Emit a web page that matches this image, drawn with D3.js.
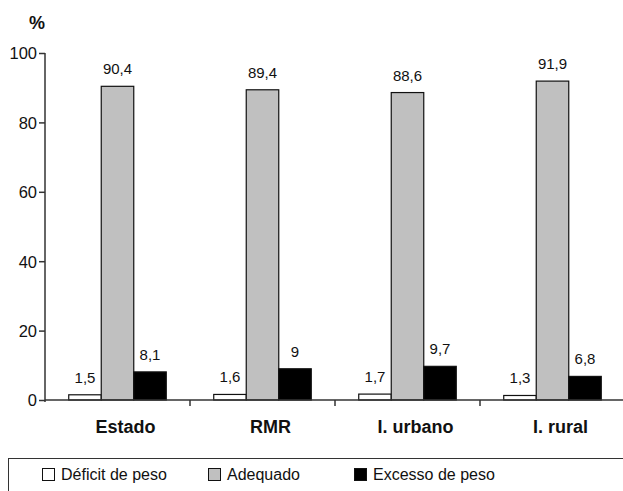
<!DOCTYPE html>
<html>
<head>
<meta charset="utf-8">
<script src="https://cdn.jsdelivr.net/npm/d3@7"></script>
<style>
  body { margin: 0; background: #fff; }
  svg text { font-family: "Liberation Sans", Arial, sans-serif; fill: #111; }
</style>
</head>
<body>
<div id="chart"></div>
<script>
const categories = ["Estado", "RMR", "I. urbano", "I. rural"];
const series = ["Déficit de peso", "Adequado", "Excesso de peso"];
const deficit = [1.5, 1.6, 1.7, 1.3];
const adequado = [90.4, 89.4, 88.6, 91.9];
const excesso = [8.1, 9, 9.7, 6.8];
const yTicks = [0, 20, 40, 60, 80, 100];

let width = 623,
    height = 491,
    margin = ({ top: 53, right: -2, bottom: 91, left: 45 });

const colors = ["#ffffff", "#c0c0c0", "#000000"];
const values = [deficit, adequado, excesso];

const rows = categories.map((c, i) => ({
  cat: c,
  vals: series.map((s, j) => ({ key: s, idx: j, v: values[j][i] }))
}));

const svg = d3.select("#chart")
  .append("svg")
  .attr("width", width)
  .attr("height", height);

let x0 = d3.scaleBand()
  .domain(categories)
  .range([margin.left, width - margin.right]);

let x1 = d3.scaleBand()
  .domain(series)
  .range([0, x0.bandwidth()])
  .paddingInner(0)
  .paddingOuter(0.73);

let y = d3.scaleLinear()
  .domain([0, 100])
  .range([height - margin.bottom, margin.top]);

const fmt = v => String(v).replace(".", ",");

// bars
const groups = svg.append("g")
  .selectAll("g")
  .data(rows)
  .join("g")
  .attr("transform", d => `translate(${x0(d.cat)},0)`);

groups.selectAll("rect")
  .data(d => d.vals)
  .join("rect")
  .attr("x", d => x1(d.key))
  .attr("y", d => y(d.v))
  .attr("width", x1.bandwidth())
  .attr("height", d => y(0) - y(d.v))
  .attr("fill", d => colors[d.idx])
  .attr("stroke", "#111")
  .attr("stroke-width", 1.2);

groups.selectAll("text")
  .data(d => d.vals)
  .join("text")
  .attr("x", d => x1(d.key) + x1.bandwidth() / 2)
  .attr("y", d => y(d.v) - 12)
  .attr("text-anchor", "middle")
  .attr("font-size", 15)
  .text(d => fmt(d.v));

// y axis
const yAxis = svg.append("g")
  .attr("transform", `translate(${margin.left},0)`)
  .call(d3.axisLeft(y).tickValues(yTicks).tickSize(6).tickPadding(2).tickSizeOuter(0));
yAxis.select(".domain").attr("stroke", "#333").attr("stroke-width", 1.5)
  .attr("d", `M0,${margin.top}V${y(0) + 2}`);
yAxis.selectAll(".tick line").attr("stroke", "#333").attr("stroke-width", 1.5);
yAxis.selectAll(".tick text").attr("font-size", 16.5).attr("dy", "0.36em");

// x axis
svg.append("line")
  .attr("x1", margin.left)
  .attr("x2", width)
  .attr("y1", y(0))
  .attr("y2", y(0))
  .attr("stroke", "#333")
  .attr("stroke-width", 1.5);

svg.append("g")
  .selectAll("line")
  .data(categories.slice(1))
  .join("line")
  .attr("x1", d => x0(d))
  .attr("x2", d => x0(d))
  .attr("y1", y(0))
  .attr("y2", y(0) + 6)
  .attr("stroke", "#333")
  .attr("stroke-width", 1.5);

svg.append("g")
  .selectAll("text")
  .data(categories)
  .join("text")
  .attr("x", d => x0(d) + x0.bandwidth() / 2 + 8)
  .attr("y", y(0) + 33)
  .attr("text-anchor", "middle")
  .attr("font-size", 18)
  .attr("font-weight", "bold")
  .text(d => d);

svg.append("text")
  .attr("x", 29)
  .attr("y", 29)
  .attr("font-size", 18)
  .attr("font-weight", "bold")
  .text("%");

// legend
svg.append("rect")
  .attr("x", 8.5)
  .attr("y", 458.5)
  .attr("width", 640)
  .attr("height", 60)
  .attr("fill", "none")
  .attr("stroke", "#333")
  .attr("stroke-width", 1);

const legendX = [42, 208, 354];
const legend = svg.append("g")
  .selectAll("g")
  .data(series)
  .join("g")
  .attr("transform", (d, i) => `translate(${legendX[i]},468)`);

legend.append("rect")
  .attr("x", 0.5)
  .attr("y", 0.5)
  .attr("width", 12)
  .attr("height", 12)
  .attr("fill", (d, i) => colors[i])
  .attr("stroke", "#111");

legend.append("text")
  .attr("x", 19)
  .attr("y", 12)
  .attr("font-size", 16)
  .text(d => d);
</script>
</body>
</html>
